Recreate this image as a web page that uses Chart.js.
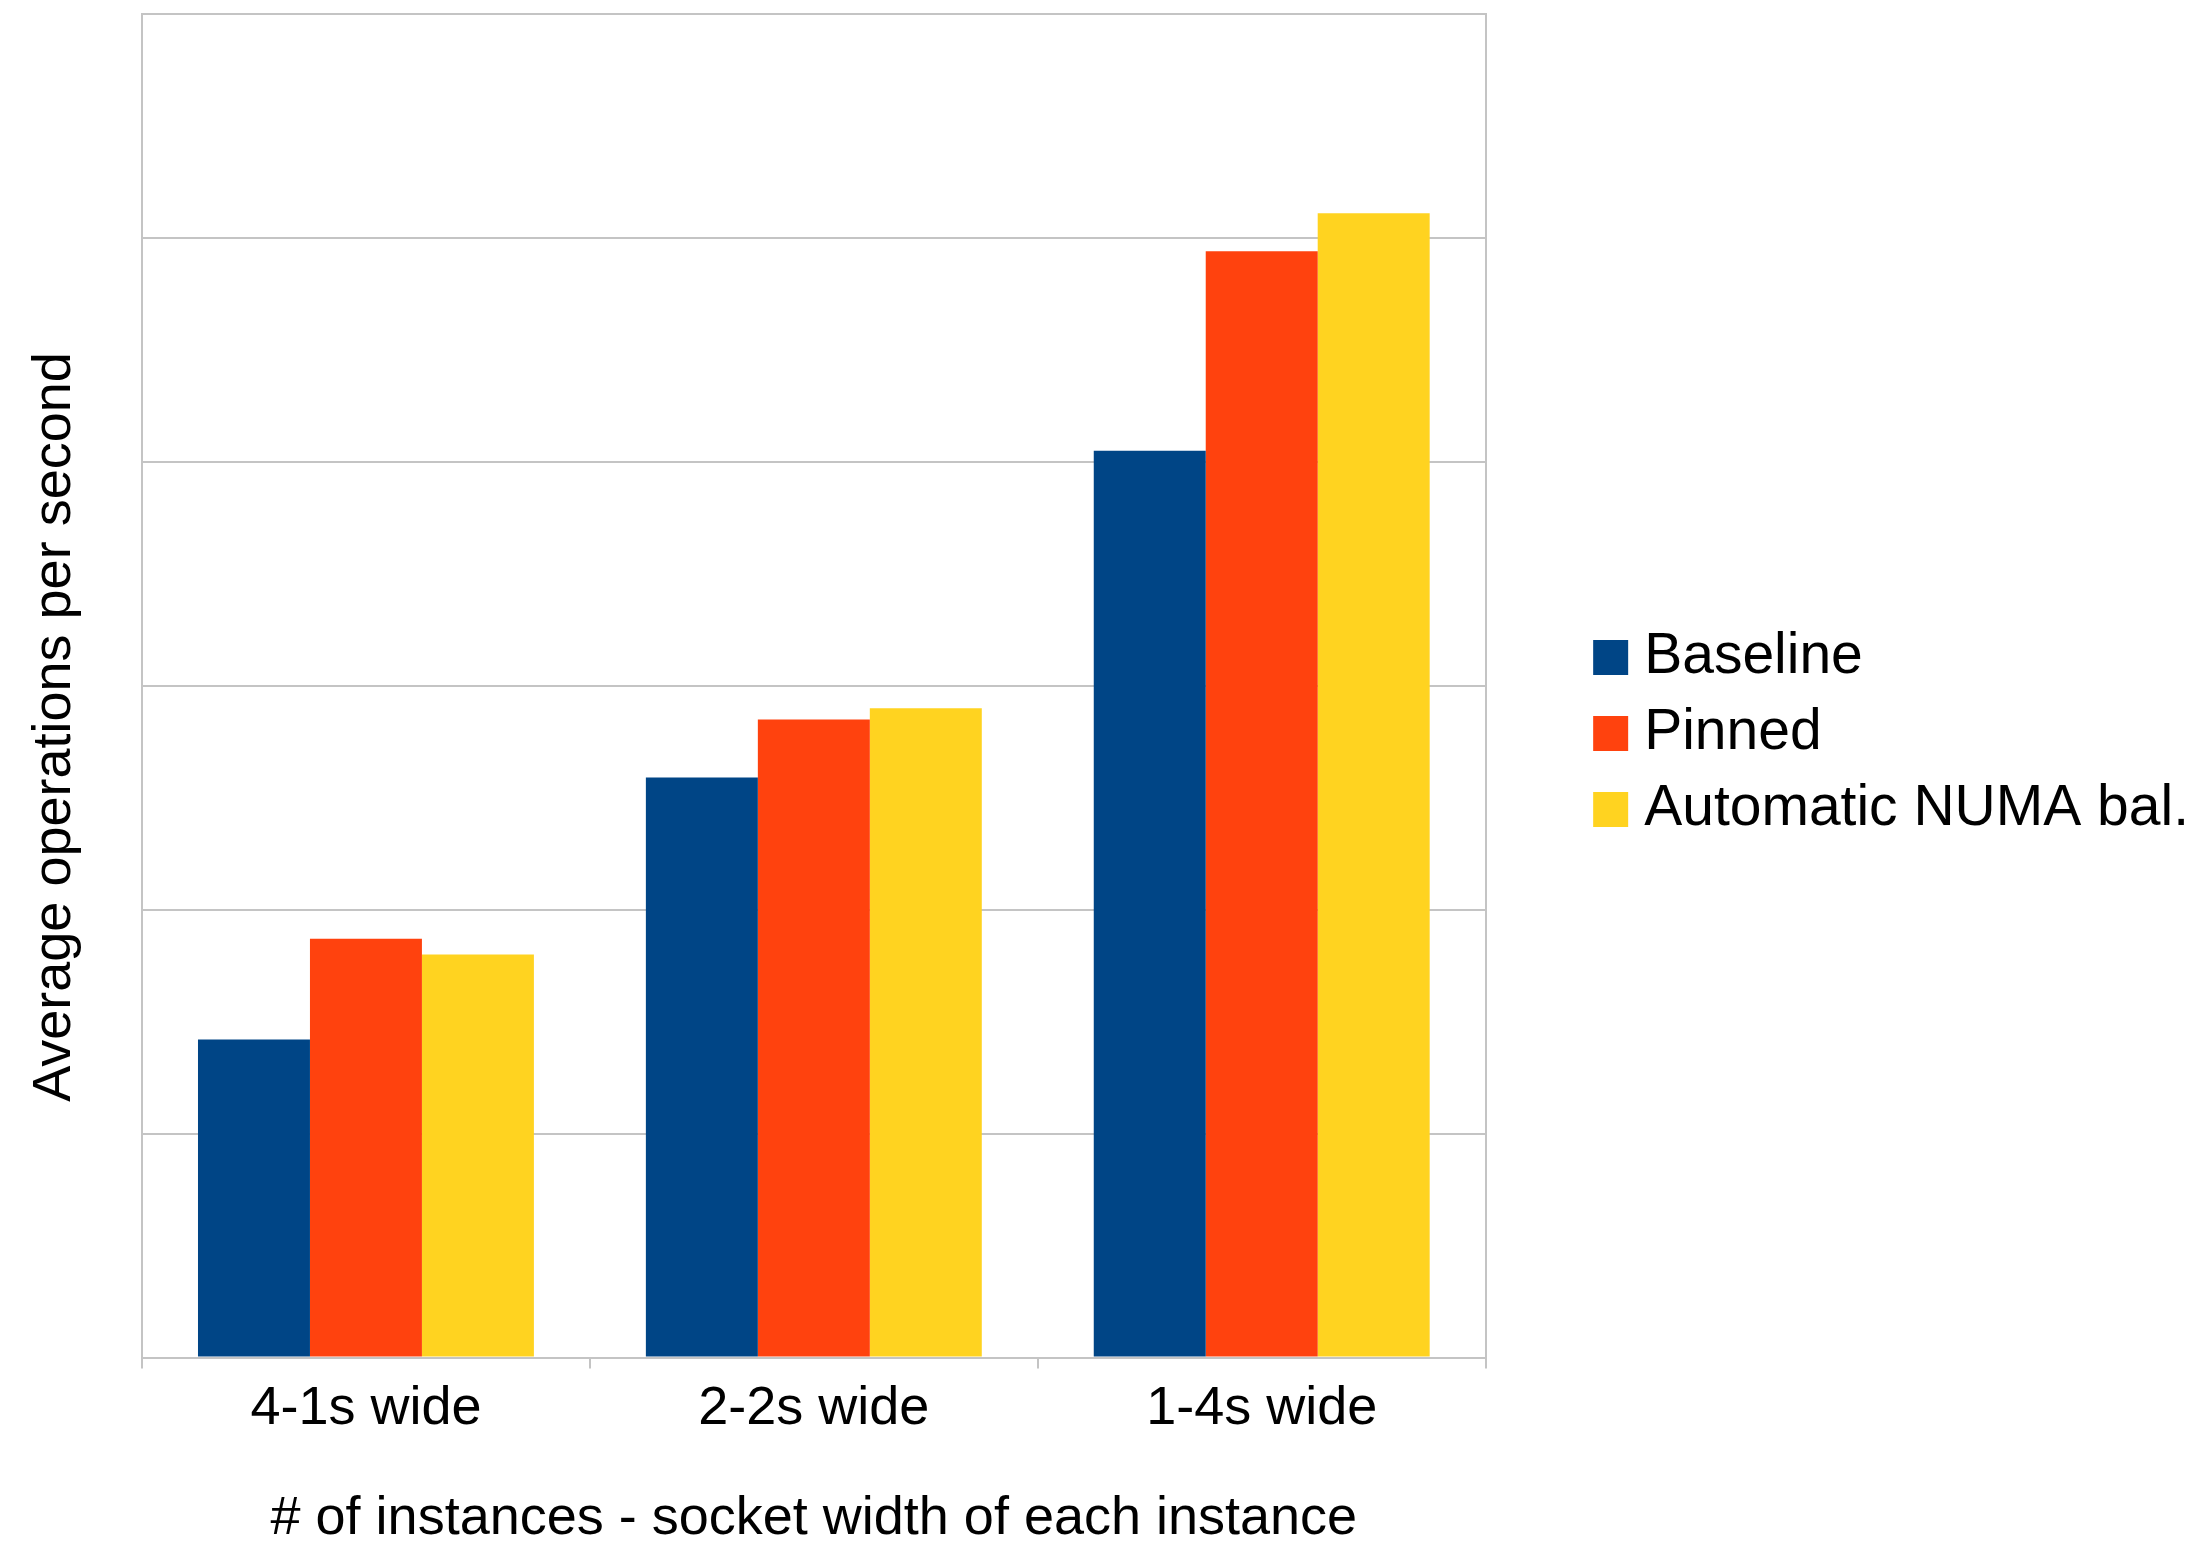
<!DOCTYPE html>
<html>
<head>
<meta charset="utf-8">
<script src="https://cdn.jsdelivr.net/npm/chart.js@4.4.1/dist/chart.umd.min.js"></script>
<style>
  html, body { margin: 0; padding: 0; background: #ffffff; }
  #wrap { width: 2199px; height: 1543px; }
</style>
</head>
<body>
<div id="wrap"><canvas id="c" width="2199" height="1543"></canvas></div>
<script>
// ---- data ----
const categories = ["4-1s wide", "2-2s wide", "1-4s wide"];
const seriesNames = ["Baseline", "Pinned", "Automatic NUMA bal."];
const baseline = [1.42, 2.59, 4.05];
const pinned = [1.87, 2.85, 4.94];
const autoNuma = [1.80, 2.90, 5.11];
const xAxisTitle = "# of instances - socket width of each instance";
const yAxisTitle = "Average operations per second";

// ---- styles ----
const seriesColors = ["#004586", "#ff420e", "#ffd320"];
const gridColor = "#c4c4c4";
const FONT = "'Liberation Sans', Arial, sans-serif";
const FS = 54;
const LEGEND_FS = 57;

Chart.defaults.font.family = FONT;
Chart.defaults.color = "#000000";

const yTitlePlugin = {
  id: 'yTitle',
  afterDraw(chart) {
    const ctx = chart.ctx;
    ctx.save();
    ctx.translate(70, 727);
    ctx.rotate(-Math.PI / 2);
    ctx.font = FS + "px " + FONT;
    ctx.fillStyle = "#000000";
    ctx.textAlign = "center";
    ctx.textBaseline = "alphabetic";
    ctx.fillText(yAxisTitle, 0, 0);
    ctx.restore();
  }
};

const seriesData = [baseline, pinned, autoNuma];

new Chart(document.getElementById('c'), {
  type: 'bar',
  data: {
    labels: categories,
    datasets: seriesNames.map((name, i) => ({
      label: name,
      data: seriesData[i],
      backgroundColor: seriesColors[i],
      borderWidth: 0,
      categoryPercentage: 0.75,
      barPercentage: 1.0,
      yAxisID: 'y'
    }))
  },
  options: {
    responsive: false,
    animation: false,
    devicePixelRatio: 1,
    layout: { padding: { left: 142, top: 14, right: 0, bottom: 0 } },
    plugins: {
      tooltip: { enabled: false },
      legend: {
        position: 'right',
        align: 'start',
        maxWidth: 800,
        title: { display: true, text: '', font: { size: 10, lineHeight: 1 }, padding: { top: 586, bottom: 0 } },
        labels: {
          boxWidth: 10,
          boxHeight: 10,
          padding: 19,
          color: '#000000',
          font: { size: LEGEND_FS },
          generateLabels(chart) {
            const items = Chart.defaults.plugins.legend.labels.generateLabels(chart);
            return items.map(it => Object.assign({}, it, { lineWidth: 25, strokeStyle: it.fillStyle, lineJoin: 'miter' }));
          }
        }
      }
    },
    scales: {
      x: {
        offset: true,
        grid: {
          display: true,
          offset: true,
          drawOnChartArea: false,
          drawTicks: true,
          tickLength: 11,
          color: gridColor,
          lineWidth: 2
        },
        border: { display: true, color: gridColor, width: 2 },
        ticks: { font: { size: FS }, color: '#000000', padding: 8, maxRotation: 0, autoSkip: false },
        title: {
          display: true,
          text: xAxisTitle,
          color: '#000000',
          font: { size: FS, lineHeight: 0.9 },
          padding: { top: 45, bottom: 0 }
        }
      },
      y: {
        min: 0,
        max: 6,
        ticks: { display: false, stepSize: 1 },
        grid: { color: gridColor, lineWidth: 2, drawTicks: false },
        border: { display: true, color: gridColor, width: 2 }
      },
      y2: {
        position: 'right',
        min: 0,
        max: 6,
        ticks: { display: false },
        grid: { drawOnChartArea: false, drawTicks: false },
        border: { display: true, color: gridColor, width: 2 },
        afterFit(scale) { scale.width = 101; }
      }
    }
  },
  plugins: [yTitlePlugin]
});
</script>
</body>
</html>
